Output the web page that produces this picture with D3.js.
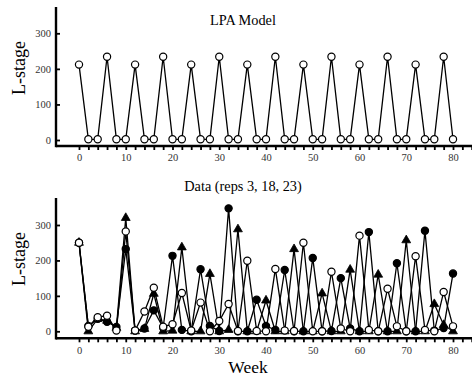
<!DOCTYPE html>
<html>
<head>
<meta charset="utf-8">
<script src="https://cdn.jsdelivr.net/npm/d3@7"></script>
<style>
  html, body { margin: 0; padding: 0; background: #fff; }
  svg { display: block; }
  text { font-family: "Liberation Serif", "Times New Roman", serif; }
</style>
</head>
<body>
<svg id="chart" width="472" height="377"></svg>
<script>
// Sampling weeks
const weeks = [0,2,4,6,8,10,12,14,16,18,20,22,24,26,28,30,32,34,36,38,40,42,44,46,48,50,52,54,56,58,60,62,64,66,68,70,72,74,76,78,80];

// LPA model prediction of L-stage numbers
const lpaModel = [212,2,2,234,2,2,212,2,2,234,2,2,212,2,2,234,2,2,212,2,2,234,2,2,212,2,2,234,2,2,212,2,2,234,2,2,212,2,2,234,2];

// Observed L-stage counts, replicates 3, 18 and 23
const repFilled = [250,15,35,27,12,232,2,8,59,10,213,4,0,175,15,1,347,0,0,89,15,4,173,0,0,207,0,1,150,8,0,280,0,0,192,0,0,284,2,9,163];
const repTriangle = [250,0,35,30,10,320,0,7,106,0,2,237,0,0,162,0,4,288,0,0,87,0,0,232,0,0,107,0,0,174,0,0,160,0,0,257,0,0,77,18,0];
const repOpen = [250,13,40,44,2,282,2,56,123,13,20,108,2,81,0,29,77,1,199,1,0,176,2,1,250,0,0,168,8,0,270,4,0,120,14,0,212,4,0,111,14];

const xTicks = d3.range(0, 85, 2);
const xLabels = [0,10,20,30,40,50,60,70,80];
const yTicks = [0,100,200,300];

const svg = d3.select("#chart");
const x = d3.scaleLinear().domain([0, 80]).range([79, 453]);

const panels = [
  { title: "LPA Model", y: d3.scaleLinear().domain([0, 300]).range([140, 33.3]),
    top: 7, base: 146, titleY: 25, labelY: 68 },
  { title: "Data (reps 3, 18, 23)", y: d3.scaleLinear().domain([0, 300]).range([331.3, 225]),
    top: 198, base: 338.3, titleY: 191, labelY: 259 }
];

const axisX0 = 56;

panels.forEach(p => {
  const g = svg.append("g");

  // x axis ticks and labels
  const xa = d3.axisBottom(x)
    .tickValues(xTicks)
    .tickSize(4)
    .tickSizeOuter(0)
    .tickPadding(4)
    .tickFormat(d => xLabels.includes(d) ? String(d) : "");
  const gx = g.append("g").attr("transform", `translate(0,${p.base})`).call(xa);
  gx.select(".domain").remove();
  gx.selectAll(".tick line").attr("stroke", "#000").attr("stroke-width", 1.8);
  gx.selectAll(".tick text")
    .attr("font-family", "Liberation Serif, serif")
    .attr("font-size", 10.5)
    .attr("fill", "#333");

  // y axis ticks and labels (ticks point inward)
  const ya = d3.axisLeft(p.y)
    .tickValues(yTicks)
    .tickSize(-4)
    .tickSizeOuter(0)
    .tickPadding(5);
  const gy = g.append("g").attr("transform", `translate(${axisX0},0)`).call(ya);
  gy.select(".domain").remove();
  gy.selectAll(".tick line").attr("stroke", "#000").attr("stroke-width", 1.8);
  gy.selectAll(".tick text")
    .attr("font-family", "Liberation Serif, serif")
    .attr("font-size", 10.5)
    .attr("fill", "#333");

  // heavy axis lines
  g.append("line")
    .attr("x1", axisX0).attr("x2", 472)
    .attr("y1", p.base).attr("y2", p.base)
    .attr("stroke", "#000").attr("stroke-width", 2.4);
  g.append("line")
    .attr("x1", axisX0).attr("x2", axisX0)
    .attr("y1", p.top).attr("y2", p.base + 1.2)
    .attr("stroke", "#000").attr("stroke-width", 2.4);

  // panel title
  g.append("text")
    .attr("x", 243).attr("y", p.titleY)
    .attr("text-anchor", "middle")
    .attr("font-size", 14.3)
    .text(p.title);

  // y axis title
  g.append("text")
    .attr("transform", `translate(24.5,${p.labelY}) rotate(-90)`)
    .attr("text-anchor", "middle")
    .attr("font-size", 18)
    .text("L-stage");
});

svg.append("text")
  .attr("x", 248).attr("y", 373)
  .attr("text-anchor", "middle")
  .attr("font-size", 17.5)
  .text("Week");

function drawLine(y, values) {
  const line = d3.line().x((d, i) => x(weeks[i])).y(d => y(d));
  svg.append("path")
    .datum(values)
    .attr("d", line)
    .attr("fill", "none")
    .attr("stroke", "#000")
    .attr("stroke-width", 1.3)
    .attr("stroke-linejoin", "miter");
}

function drawCircles(y, values, fill) {
  svg.append("g").selectAll("circle")
    .data(values)
    .join("circle")
    .attr("cx", (d, i) => x(weeks[i]))
    .attr("cy", d => y(d))
    .attr("r", 3.6)
    .attr("fill", fill)
    .attr("stroke", "#000")
    .attr("stroke-width", 1.2);
}

function drawTriangles(y, values) {
  const sym = d3.symbol().type(d3.symbolTriangle).size(34);
  svg.append("g").selectAll("path")
    .data(values)
    .join("path")
    .attr("transform", (d, i) => `translate(${x(weeks[i])},${y(d)})`)
    .attr("d", sym)
    .attr("fill", "#000")
    .attr("stroke", "#000")
    .attr("stroke-width", 0.8);
}

// Top panel: model
const yT = panels[0].y;
drawLine(yT, lpaModel);
drawCircles(yT, lpaModel, "#fff");

// Bottom panel: data replicates
const yB = panels[1].y;
drawLine(yB, repTriangle);
drawLine(yB, repFilled);
drawLine(yB, repOpen);
drawTriangles(yB, repTriangle);
drawCircles(yB, repFilled, "#000");
drawCircles(yB, repOpen, "#fff");
</script>
</body>
</html>
